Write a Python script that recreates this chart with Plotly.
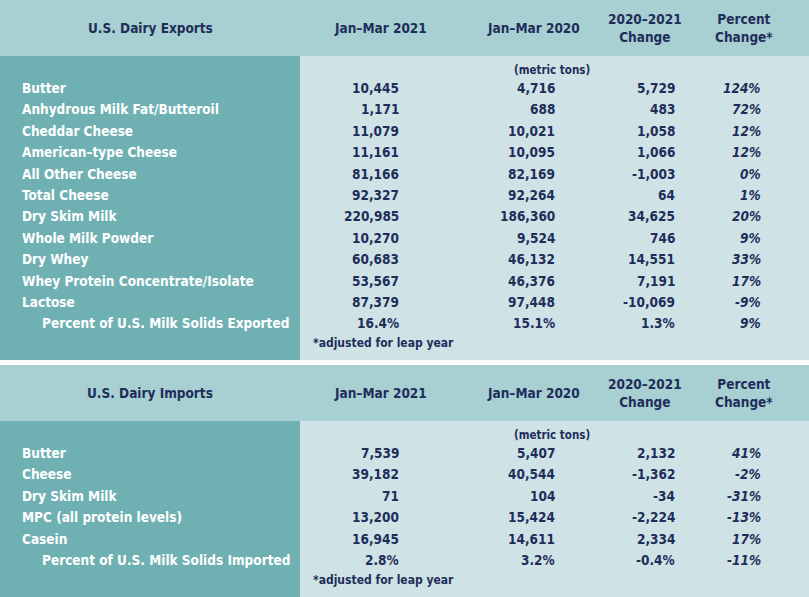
import plotly.graph_objects as go

# export table
exp_items = ["Butter", "Anhydrous Milk Fat/Butteroil", "Cheddar Cheese", "American\u2013type Cheese",
             "All Other Cheese", "Total Cheese", "Dry Skim Milk", "Whole Milk Powder", "Dry Whey",
             "Whey Protein Concentrate/Isolate", "Lactose", "Percent of U.S. Milk Solids Exported"]
exp_2021 = ["10,445", "1,171", "11,079", "11,161", "81,166", "92,327", "220,985", "10,270",
            "60,683", "53,567", "87,379", "16.4%"]
exp_2020 = ["4,716", "688", "10,021", "10,095", "82,169", "92,264", "186,360", "9,524",
            "46,132", "46,376", "97,448", "15.1%"]
exp_chg = ["5,729", "483", "1,058", "1,066", "-1,003", "64", "34,625", "746",
           "14,551", "7,191", "-10,069", "1.3%"]
exp_pct = ["124%", "72%", "12%", "12%", "0%", "1%", "20%", "9%", "33%", "17%", "-9%", "9%"]

# import table
imp_items = ["Butter", "Cheese", "Dry Skim Milk", "MPC (all protein levels)", "Casein",
             "Percent of U.S. Milk Solids Imported"]
imp_2021 = ["7,539", "39,182", "71", "13,200", "16,945", "2.8%"]
imp_2020 = ["5,407", "40,544", "104", "15,424", "14,611", "3.2%"]
imp_chg = ["2,132", "-1,362", "-34", "-2,224", "2,334", "-0.4%"]
imp_pct = ["41%", "-2%", "-31%", "-13%", "17%", "-11%"]

col_heads = ["Jan\u2013Mar 2021", "Jan\u2013Mar 2020", "2020\u20132021<br>Change", "Percent<br>Change*"]

W, H = 809, 597
NAVY = "#1f2d5a"
HEAD_BG = "#a8cfd2"
DARK_BG = "#6fb1b3"
LIGHT_BG = "#cfe3e6"
FONT = "DejaVu Sans Condensed, Liberation Sans Narrow, sans-serif"
FS = 13.5

fig = go.Figure()
shapes = []
ann = []


def txt(x, y, s, anchor="center", color=NAVY, italic=False, size=FS):
    if italic:
        s = "<i>" + s + "</i>"
    ann.append(dict(x=x, y=y, text="<b>" + s + "</b>", xanchor=anchor, yanchor="middle",
                    showarrow=False, font=dict(family=FONT, size=size, color=color)))


def block(top, title, items, c21, c20, chg, pct, bottom):
    head_h = 56
    shapes.append(dict(type="rect", x0=0, x1=W, y0=top, y1=top + head_h, fillcolor=HEAD_BG, line_width=0, layer="below"))
    shapes.append(dict(type="rect", x0=0, x1=300, y0=top + head_h, y1=bottom, fillcolor=DARK_BG, line_width=0, layer="below"))
    shapes.append(dict(type="rect", x0=300, x1=W, y0=top + head_h, y1=bottom, fillcolor=LIGHT_BG, line_width=0, layer="below"))
    txt(150, top + 28, title)
    for xc, h in zip([380, 533, 645, 744], col_heads):
        txt(xc, top + 28, h)
    txt(552, top + 70, "(metric tons)", size=11.5)
    step = 21.4
    y0 = top + 88
    n = len(items)
    for i in range(n):
        y = y0 + i * step
        last = i == n - 1
        txt(40 if last else 20, y, items[i], anchor="left", color="white")
        txt(401, y, c21[i], anchor="right")
        txt(557, y, c20[i], anchor="right")
        txt(677, y, chg[i], anchor="right")
        txt(763, y, pct[i], anchor="right", italic=True)
    txt(311, y0 + (n - 1) * step + 20, "*adjusted for leap year", anchor="left", size=12)


block(0, "U.S. Dairy Exports", exp_items, exp_2021, exp_2020, exp_chg, exp_pct, 360)
block(365, "U.S. Dairy Imports", imp_items, imp_2021, imp_2020, imp_chg, imp_pct, H)

fig.update_layout(
    width=W, height=H,
    margin=dict(l=0, r=0, t=0, b=0),
    paper_bgcolor="white", plot_bgcolor="white",
    xaxis=dict(range=[0, W], visible=False, fixedrange=True),
    yaxis=dict(range=[H, 0], visible=False, fixedrange=True),
    shapes=shapes, annotations=ann,
    showlegend=False,
)

# page body has a default 8px margin, drop it so the table sits at the window edge
fig.write_html("out.html", config={"displayModeBar": False},
               post_script="document.body.style.margin='0';document.body.style.overflow='hidden';")
